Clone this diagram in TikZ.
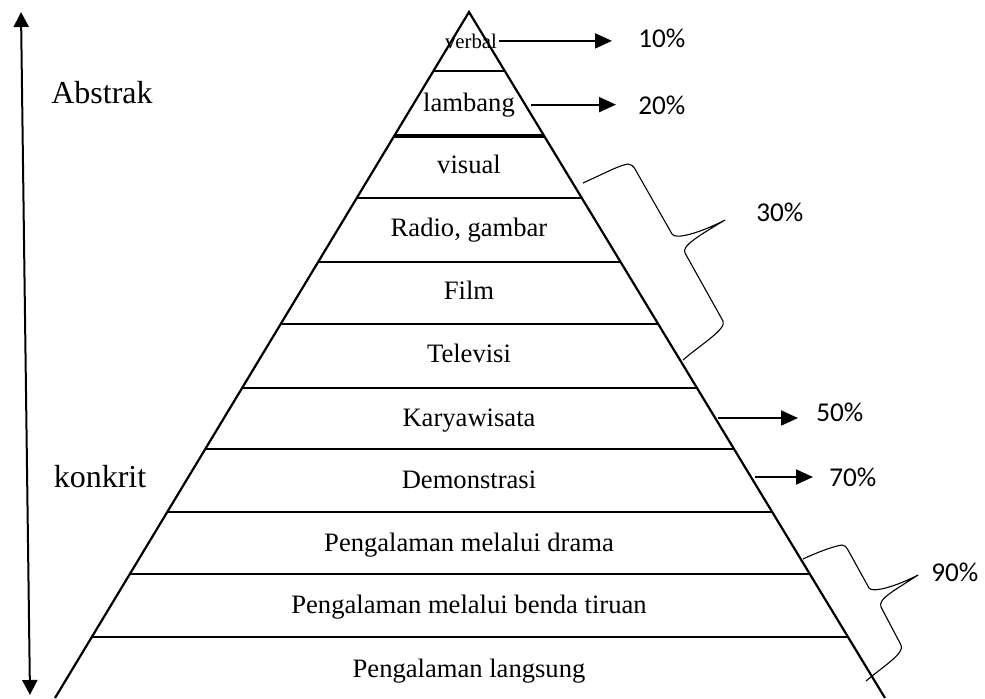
\documentclass[tikz,border=0pt]{standalone}
\usepackage{fontspec}
\setmainfont{Liberation Serif}
\newfontfamily\pctfont{Carlito}
\usetikzlibrary{arrows.meta,calc}

\begin{document}
\begin{tikzpicture}[x=0.5pt, y=-0.5pt,
    tier/.style={anchor=base, inner sep=1pt, font=\fontsize{13.3}{16}\selectfont},
    side/.style={anchor=base, inner sep=1pt, font=\fontsize{16}{19}\selectfont},
    pct/.style={anchor=west, inner sep=1pt, font=\pctfont\fontsize{13.6}{16}\selectfont},
    flow/.style={-{Triangle[length=8.5pt,width=7.5pt]}, line width=1pt},
    brace/.style={line width=0.55pt, line join=round}
  ]
    \useasboundingbox (0,0) rectangle (985,698);

    % pyramid
    \coordinate (apex) at (469,12);
    \coordinate (bl) at (55,698);
    \coordinate (br) at (885,698);
    \draw[line width=1.1pt] (bl) -- (apex) -- (br);
    \foreach \y in {71,198,262,324,388,449,512,574,637}
      \draw[line width=1.2pt] ($(apex)!{(\y-12)/686}!(bl)$) -- ($(apex)!{(\y-12)/686}!(br)$);
    \draw[line width=1.8pt] ($(apex)!{124/686}!(bl)$) -- ($(apex)!{124/686}!(br)$);

    \node[tier, font=\fontsize{10.4}{12}\selectfont] (verbal) at (471,48) {verbal};
    \node[tier] (lambang) at (469,111) {lambang};
    \node[tier] (visual) at (469,173) {visual};
    \node[tier] (radio) at (469,236) {Radio, gambar};
    \node[tier] (film) at (469,299) {Film};
    \node[tier] (tv) at (469,362) {Televisi};
    \node[tier] (karya) at (469,426) {Karyawisata};
    \node[tier] (demo) at (469,488) {Demonstrasi};
    \node[tier] (drama) at (469,551) {Pengalaman melalui drama};
    \node[tier] (tiruan) at (469,613) {Pengalaman melalui benda tiruan};
    \node[tier] (langsung) at (469,677) {Pengalaman langsung};

    % left scale
    \coordinate (top) at (21,12);
    \coordinate (bot) at (30,695);
    \draw[{Triangle[length=7.5pt,width=7.5pt]}-{Triangle[length=7.5pt,width=7.5pt]}, line width=1pt] (top) -- (bot);
    \node[side] (abstrak) at (102,103) {Abstrak};
    \node[side] (konkrit) at (100,487) {konkrit};

    % percentages
    \node[pct] (p10) at (636,38) {10\%};
    \node[pct] (p20) at (636,105) {20\%};
    \node[pct] (p30) at (754,212) {30\%};
    \node[pct] (p50) at (814,412) {50\%};
    \node[pct] (p70) at (827,477) {70\%};
    \node[pct] (p90) at (929,572) {90\%};

    \coordinate (e50) at (718,418);
    \coordinate (e70) at (755,477);
    \draw[flow, shorten >=12pt] (verbal.east) -- (verbal.east -| p10.west);
    \draw[flow, shorten <=7pt, shorten >=10pt] (lambang.east) -- (lambang.east -| p20.west);
    \draw[flow, shorten >=8pt] (e50) -- (e50 -| p50.west);
    \draw[flow, shorten >=7pt] (e70) -- (e70 -| p70.west);

    % braces
    \draw[brace] (583,183) .. controls (605,173) and (620,165) .. (628,164)
      .. controls (631,164) and (633,166) .. (635,169) -- (672,234)
      .. controls (675,240) and (700,233) .. (725,220)
      .. controls (700,235) and (681,246) .. (685,253) -- (723,321)
      .. controls (727,329) and (700,345) .. (683,360);
    \draw[brace] (803,559) .. controls (820,551) and (835,546) .. (842,545)
      .. controls (845,545) and (846,547) .. (848,550) -- (869,588)
      .. controls (872,593) and (895,587) .. (918,575)
      .. controls (897,589) and (877,599) .. (881,607) -- (901,645)
      .. controls (905,653) and (885,665) .. (866,681);
\end{tikzpicture}
\end{document}
